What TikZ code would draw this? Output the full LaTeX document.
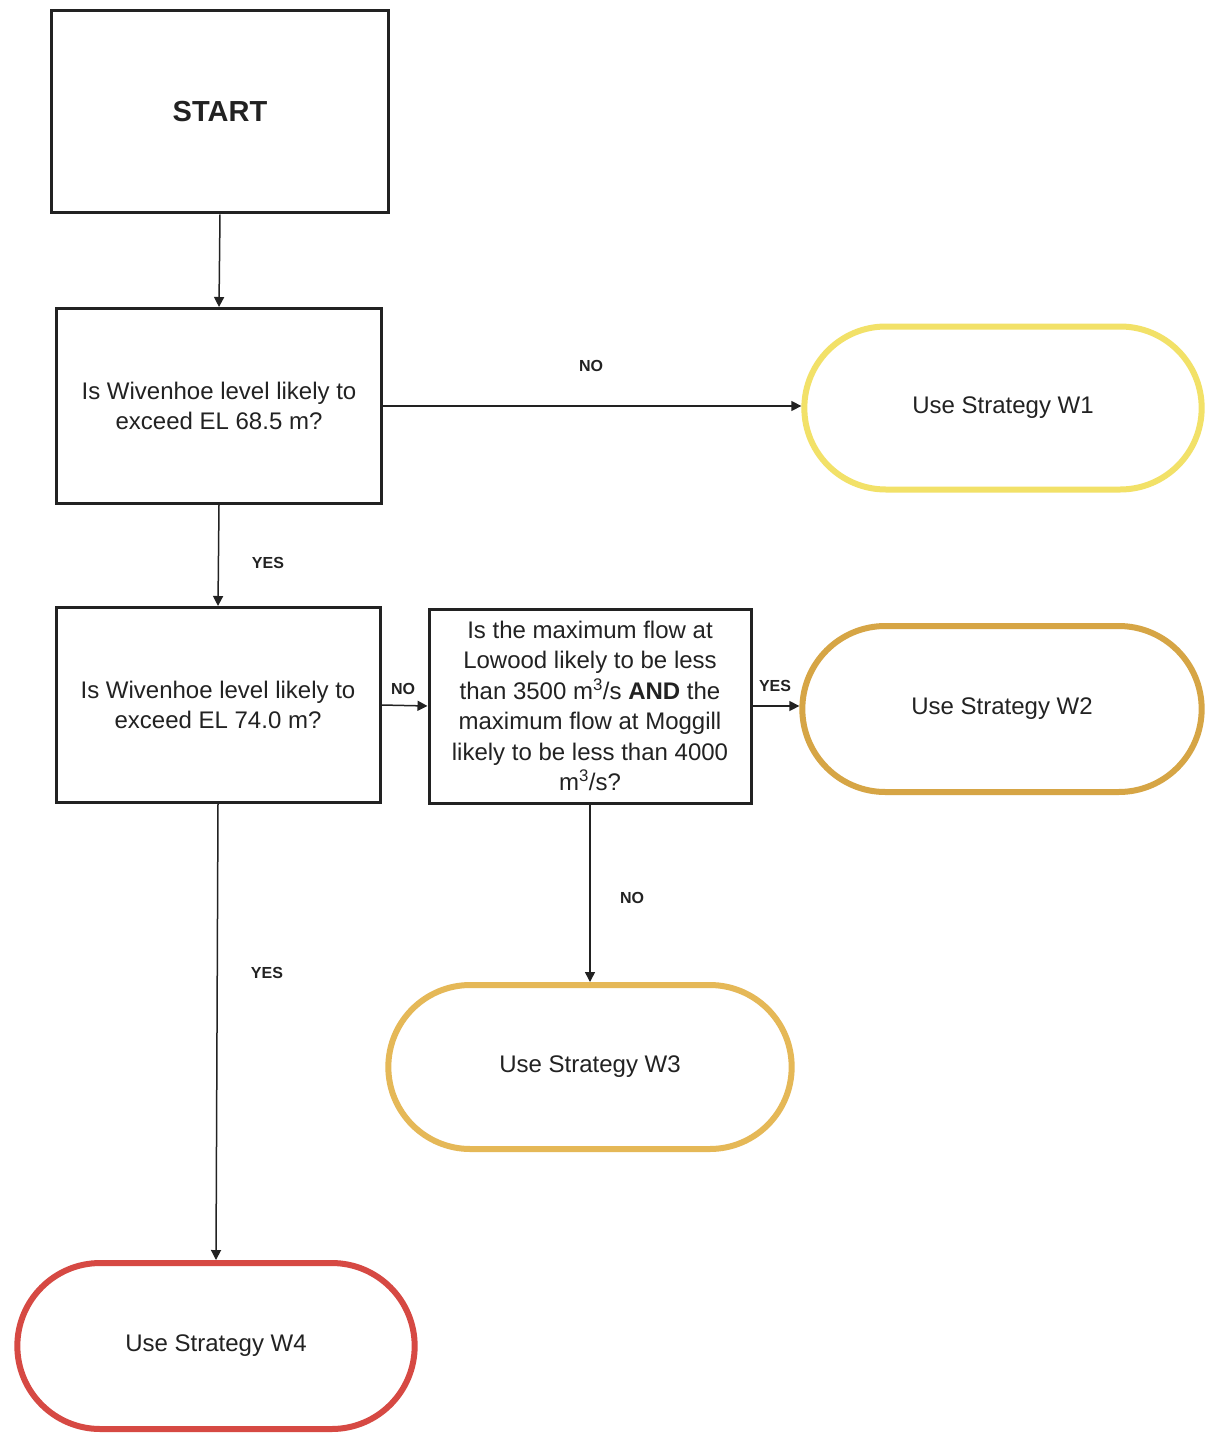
\documentclass[tikz,border=0pt]{standalone}
\usepackage{fontspec}
\setmainfont{Liberation Sans}
\usetikzlibrary{shapes.misc,arrows.meta}
\definecolor{cW1}{HTML}{F2E168}
\definecolor{cW2}{HTML}{D6A545}
\definecolor{cW3}{HTML}{E5B857}
\definecolor{cW4}{HTML}{D64943}
\definecolor{ink}{HTML}{222222}
\begin{document}
\begin{tikzpicture}[x=1pt,y=-1pt,
  qbox/.style={draw=ink,line width=3pt,rectangle,inner sep=2pt,align=center,
    font=\fontsize{24}{30.5}\selectfont,text=ink},
  term/.style={rounded rectangle,line width=6pt,fill=white,
    font=\fontsize{24}{30}\selectfont,text=ink,minimum width=#1},
  lbl/.style={font=\fontsize{16}{18}\selectfont\bfseries,text=ink,inner sep=0pt},
  conn/.style={draw=ink,line width=1.5pt,-{Triangle[width=10pt,length=10pt]}}]
\useasboundingbox[fill=white] (0,0) rectangle (1210,1439);
\node[qbox,minimum width=337pt,minimum height=202pt,font=\fontsize{29}{34}\selectfont\bfseries] (start) at (220,112) {START};
\node[qbox,minimum width=325pt,minimum height=195pt] (q1) at (219,406) {Is Wivenhoe level likely to\\exceed EL 68.5 m?};
\node[qbox,minimum width=324pt,minimum height=195pt] (q2) at (218,705) {Is Wivenhoe level likely to\\exceed EL 74.0 m?};
\node[qbox,minimum width=322pt,minimum height=194pt] (q3) at (590,706) {Is the maximum flow at\\Lowood likely to be less\\than 3500 m\textsuperscript{3}/s \textbf{AND} the\\maximum flow at Moggill\\likely to be less than 4000\\m\textsuperscript{3}/s?};
\node[term=404pt,draw=cW1,minimum height=163pt] (w1) at (1003,408) {Use Strategy W1};
\node[term=406pt,draw=cW2,minimum height=166pt] (w2) at (1002,709) {Use Strategy W2};
\node[term=410pt,draw=cW3,minimum height=164pt] (w3) at (590,1067) {Use Strategy W3};
\node[term=404pt,draw=cW4,minimum height=166pt] (w4) at (216,1346) {Use Strategy W4};
\draw[conn] (start.south) -- (q1.north);
\draw[conn] (q1.east) -- (q1.east -| w1.west);
\draw[conn] (q1.south) -- (q2.north);
\draw[conn] (q2.east) -- (q3.west);
\draw[conn] (q3.east) -- (q3.east -| w2.west);
\draw[conn] (q3.south) -- (w3.north);
\draw[conn] (q2.south) -- (w4.north);
\node[lbl] (l1) at (591,366) {NO};
\node[lbl] (l2) at (268,563) {YES};
\node[lbl] (l3) at (403,689) {NO};
\node[lbl] (l4) at (775,686) {YES};
\node[lbl] (l5) at (632,898) {NO};
\node[lbl] (l6) at (267,973) {YES};
\end{tikzpicture}
\end{document}
